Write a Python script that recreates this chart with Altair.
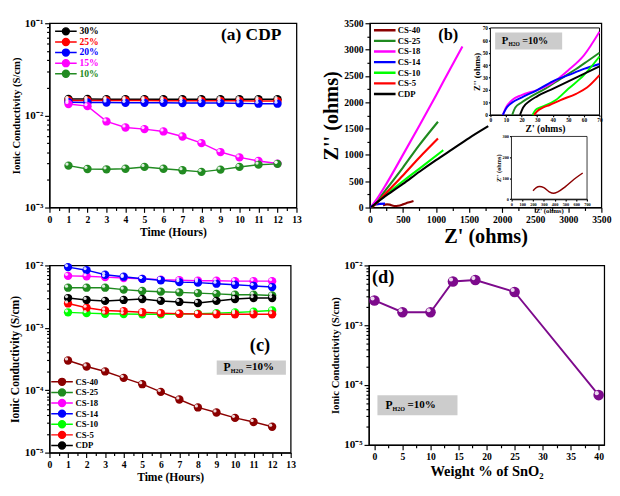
import altair as alt
import pandas as pd

FONT = "Liberation Serif"

# ---------------- data ----------------
hours = [1, 2, 3, 4, 5, 6, 7, 8, 9, 10, 11, 12]

# panel (a): CDP at various humidities
a_series = ["30%", "25%", "20%", "15%", "10%"]
a_colors = ["#000000", "#ff0000", "#0000ff", "#ff00ff", "#228b22"]
a_30 = [0.0151, 0.0151, 0.0150, 0.0150, 0.0150, 0.0150, 0.0150, 0.0150, 0.0150, 0.0150, 0.0150, 0.0150]
a_25 = [0.0145, 0.0145, 0.0145, 0.0145, 0.0145, 0.0144, 0.0144, 0.0144, 0.0144, 0.0144, 0.0143, 0.0143]
a_20 = [0.0139, 0.0138, 0.0138, 0.0137, 0.0137, 0.0137, 0.0136, 0.0136, 0.0136, 0.0135, 0.0134, 0.0134]
a_15 = [0.0133, 0.0126, 0.0086, 0.0074, 0.0071, 0.0067, 0.0059, 0.0050, 0.0040, 0.0035, 0.0032, 0.0030]
a_10 = [0.00285, 0.00262, 0.00260, 0.00264, 0.00276, 0.00264, 0.00254, 0.00244, 0.00258, 0.00276, 0.00292, 0.00298]

# panels (b), (c): composite series
c_series = ["CS-40", "CS-25", "CS-18", "CS-14", "CS-10", "CS-5", "CDP"]
c_colors = ["#8b0000", "#1f8a1f", "#ff00ff", "#0000ff", "#00ff00", "#ff0000", "#000000"]

c_cs40 = [3.0e-4, 2.4e-4, 2.0e-4, 1.58e-4, 1.25e-4, 9.4e-5, 7.1e-5, 5.3e-5, 4.4e-5, 3.6e-5, 3.1e-5, 2.6e-5]
c_cs25 = [0.0044, 0.0044, 0.0044, 0.0041, 0.0039, 0.0038, 0.0037, 0.0036, 0.0035, 0.0034, 0.0034, 0.0033]
c_cs18 = [0.0068, 0.0067, 0.0065, 0.0063, 0.0061, 0.0059, 0.0058, 0.0057, 0.0057, 0.0056, 0.0056, 0.0056]
c_cs14 = [0.0094, 0.0084, 0.0071, 0.0066, 0.0061, 0.0058, 0.0054, 0.0053, 0.0051, 0.0049, 0.0047, 0.0045]
c_cs10 = [0.00177, 0.00172, 0.00168, 0.00166, 0.00165, 0.00165, 0.00167, 0.00168, 0.00172, 0.00176, 0.00182, 0.0019]
c_cs5 = [0.00246, 0.0021, 0.0019, 0.00185, 0.00178, 0.00172, 0.00168, 0.00166, 0.00165, 0.00165, 0.00165, 0.00165]
c_cdp = [0.0030, 0.0028, 0.0027, 0.0028, 0.0029, 0.0027, 0.0026, 0.0025, 0.0027, 0.0029, 0.0030, 0.0030]

# panel (b) main Nyquist curves (Z', Z'')
b_cs40_x = [200, 230, 260, 300, 350, 390, 430, 500, 580, 660]
b_cs40_y = [40, 55, 60, 55, 35, 28, 35, 60, 95, 125]
b_cs25_x = [15, 100, 250, 500, 750, 1030]
b_cs25_y = [0, 110, 350, 760, 1190, 1630]
b_cs18_x = [10, 100, 250, 500, 750, 1000, 1200, 1400]
b_cs18_y = [0, 150, 450, 1000, 1560, 2130, 2600, 3060]
b_cs14_x = [8, 50, 100, 150, 230]
b_cs14_y = [0, 40, 60, 70, 75]
b_cs10_x = [27, 100, 250, 500, 750, 1110]
b_cs10_y = [0, 90, 250, 500, 740, 1090]
b_cs5_x = [28, 100, 250, 500, 750, 1030]
b_cs5_y = [0, 80, 280, 610, 950, 1310]
b_cdp_x = [20, 100, 250, 500, 750, 1000, 1250, 1500, 1790]
b_cdp_y = [0, 90, 230, 450, 680, 900, 1110, 1320, 1545]

# panel (b) high-frequency inset
i_cs18_x = [8, 10, 14, 20, 30, 40, 50, 60, 70]
i_cs18_y = [0, 6, 12, 16, 20, 26, 36, 48, 67]
i_cs14_x = [8, 10, 14, 20, 30, 40, 50, 60, 70]
i_cs14_y = [0, 5, 10, 14, 20, 27, 32, 37, 41]
i_cs25_x = [14, 16, 20, 25, 35, 45, 55, 62, 70]
i_cs25_y = [0, 6, 10, 14, 21, 29, 37, 43, 50]
i_cdp_x = [19, 21, 25, 30, 40, 50, 60, 70]
i_cdp_y = [0, 6, 11, 15, 21, 27, 33, 39]
i_cs10_x = [27, 29, 32, 36, 42, 50, 60, 70]
i_cs10_y = [0, 4, 6, 8, 12, 21, 32, 47]
i_cs5_x = [28, 30, 34, 38, 45, 55, 62, 70]
i_cs5_y = [0, 3, 6, 8, 12, 17, 22, 32]

# panel (d)
d_wt = [0, 5, 10, 14, 18, 25, 40]
d_sigma = [2.6e-3, 1.65e-3, 1.65e-3, 5.4e-3, 5.7e-3, 3.6e-3, 6.8e-5]

# ---------------- layout sizes ----------------
A_W, A_H = 256, 191
B_W, B_H = 240, 191
C_W, C_H = 250, 194
D_W, D_H = 244, 186


def ax(px): return (px - 47) / 256 * A_W
def ay(py): return (py - 5) / 199 * A_H
def bx(px): return (px - 366) / 242 * B_W
def by(py): return (py - 5) / 197 * B_H
def cx(px): return (px - 49) / 251 * C_W
def cy(py): return (py - 263) / 197 * C_H
def dx(px): return (px - 368) / 247 * D_W
def dy(py): return (py - 263) / 188 * D_H


SUP = ("'10' + ['\u2070','\u207b\u00b9','\u207b\u00b2','\u207b\u00b3','\u207b\u2074','\u207b\u2075','\u207b\u2076']"
       "[round(-log(datum.value)/LN10)]")

LEG_PATH = "M-1,0H-0.32M0.32,0H1M-0.32,0A0.32,0.32 0 1,0 0.32,0A0.32,0.32 0 1,0 -0.32,0Z"


def log_minor(lo_exp, hi_exp):
    return [m * 10.0 ** e for e in range(lo_exp, hi_exp) for m in range(2, 10)]


def color_expr(series, colors):
    expr = "'black'"
    for s, c in reversed(list(zip(series, colors))):
        expr = f"datum.value == '{s}' ? '{c}' : ({expr})"
    return expr


def label(text, x, y, size, align="left", baseline="middle"):
    return alt.Chart(pd.DataFrame({"t": [text]})).mark_text(
        font=FONT, fontSize=size, fontWeight="bold", align=align, baseline=baseline, color="black"
    ).encode(text="t:N", x=alt.value(x), y=alt.value(y))


def box(x0, x1, y0, y1):
    return alt.Chart(pd.DataFrame({"t": [0]})).mark_rect(color="#cccccc").encode(
        x=alt.value(x0), x2=alt.value(x1), y=alt.value(y0), y2=alt.value(y1))


def ph2o(x0, x1, y0, y1, big):
    ym = (y0 + y1) / 2
    small = big * 0.52
    xp = x0 + (x1 - x0) * 0.1
    return [
        box(x0, x1, y0, y1),
        label("P", xp, ym, big),
        label("H2O", xp + big * 0.62, ym + big * 0.32, small),
        label("=10%", xp + big * 0.62 + small * 2.15 + 2, ym, big * 0.95),
    ]


def minor_layer(df, xf, yf, xdom, ydom, xminor, yminor, ylog=True):
    return alt.Chart(df).mark_point(opacity=0).encode(
        x=alt.X(xf, scale=alt.Scale(domain=xdom, nice=False),
                axis=alt.Axis(orient="bottom", values=xminor, labels=False, ticks=True, tickSize=3,
                              tickWidth=1.2, tickColor="black", domain=False, title=None)),
        y=alt.Y(yf, scale=alt.Scale(type="log" if ylog else "linear", domain=ydom, nice=False),
                axis=alt.Axis(orient="left", values=yminor, labels=False, ticks=True, tickSize=3,
                              tickWidth=1.2, tickColor="black", domain=False, title=None)),
    )


def long_time(names, arrays):
    rows = []
    for n, arr in zip(names, arrays):
        for h, v in zip(hours, arr):
            rows.append({"series": n, "hour": h, "sigma": v})
    return pd.DataFrame(rows)


def time_main(df, series, colors, ydom, yvals, ytitle, ytsize, xtsize, legend, size):
    x = alt.X("hour:Q", scale=alt.Scale(domain=[0, 13], nice=False),
              axis=alt.Axis(values=list(range(14)), title="Time (Hours)", titleFontSize=xtsize))
    y = alt.Y("sigma:Q", scale=alt.Scale(type="log", domain=ydom, nice=False),
              axis=alt.Axis(values=yvals, labelExpr=SUP, labelFontSize=11.5, title=ytitle,
                            titleFontSize=ytsize))
    col = alt.Color("series:N", scale=alt.Scale(domain=series, range=colors), legend=legend)
    lines = alt.Chart(df).mark_line(strokeWidth=1.5).encode(x=x, y=y, color=col)
    pts = alt.Chart(df).mark_circle(size=size, opacity=1).encode(x=x, y=y, color=alt.Color("series:N", legend=None))
    hl = alt.Chart(df).mark_circle(size=size * 0.15, opacity=0.85, xOffset=-1.6, yOffset=-1.6).encode(
        x=x, y=y, color=alt.value("white"))
    return alt.layer(lines, pts, hl)


half_hours = [h + 0.5 for h in range(13)]

# ---------------- panel (a) ----------------
df_a = long_time(a_series, [a_30, a_25, a_20, a_15, a_10])
leg_a = alt.Legend(orient="none", legendX=ax(52), legendY=ay(8), title=None, labelFont=FONT,
                   labelFontWeight="bold", labelFontSize=10,
                   labelColor={"expr": color_expr(a_series, a_colors)},
                   symbolType=LEG_PATH, symbolSize=500, symbolStrokeWidth=1.5,
                   clipHeight=11, rowPadding=0, labelOffset=2, padding=0)
panel_a = alt.layer(
    time_main(df_a, a_series, a_colors, [1e-3, 1e-1], [1e-3, 1e-2, 1e-1],
              "Ionic Conductivity (S/cm)", 11, 12, leg_a, 75),
    minor_layer(df_a, "hour:Q", "sigma:Q", [0, 13], [1e-3, 1e-1], half_hours, log_minor(-3, -1)),
    label("(a) CDP", ax(256), ay(18), 18, align="center"),
).resolve_scale(x="independent", y="independent").properties(width=A_W, height=A_H)

# ---------------- panel (b) ----------------
rows = []
for n, xs, ys in zip(c_series,
                     [b_cs40_x, b_cs25_x, b_cs18_x, b_cs14_x, b_cs10_x, b_cs5_x, b_cdp_x],
                     [b_cs40_y, b_cs25_y, b_cs18_y, b_cs14_y, b_cs10_y, b_cs5_y, b_cdp_y]):
    for xv, yv in zip(xs, ys):
        rows.append({"series": n, "zr": xv, "zi": yv})
df_b = pd.DataFrame(rows)

rows = []
for n, xs, ys in zip(["CS-25", "CS-18", "CS-14", "CS-10", "CS-5", "CDP"],
                     [i_cs25_x, i_cs18_x, i_cs14_x, i_cs10_x, i_cs5_x, i_cdp_x],
                     [i_cs25_y, i_cs18_y, i_cs14_y, i_cs10_y, i_cs5_y, i_cdp_y]):
    for xv, yv in zip(xs, ys):
        rows.append({"series": n, "zr": xv, "zi": yv})
df_i = pd.DataFrame(rows)
df_i2 = df_b[df_b.series == "CS-40"]

zticks = [0, 500, 1000, 1500, 2000, 2500, 3000, 3500]
leg_b = alt.Legend(orient="none", legendX=bx(369), legendY=by(7), title=None, labelFont=FONT,
                   labelFontWeight="bold", labelFontSize=9, symbolType="stroke", symbolSize=500,
                   symbolStrokeWidth=2.5, clipHeight=10.7, rowPadding=0, labelOffset=1, padding=0)
main_b = alt.Chart(df_b).mark_line(strokeWidth=2.2, interpolate="monotone", clip=True).encode(
    x=alt.X("zr:Q", scale=alt.Scale(domain=[0, 3500], nice=False),
            axis=alt.Axis(orient="bottom", values=zticks, format="d", title="Z' (ohms)",
                          titleFontSize=21, titlePadding=2)),
    y=alt.Y("zi:Q", scale=alt.Scale(domain=[0, 3500], nice=False),
            axis=alt.Axis(orient="left", values=zticks, format="d", title="Z'' (ohms)",
                          titleFontSize=21, titlePadding=2)),
    color=alt.Color("series:N", scale=alt.Scale(domain=c_series, range=c_colors), legend=leg_b),
)

# inset 1
i1x0, i1x1, i1y0, i1y1 = bx(492), bx(606), by(103), by(10)
sx1 = alt.Scale(domain=[0, 70], range=[i1x0, i1x1], nice=False)
sy1 = alt.Scale(domain=[0, 70], range=[i1y0, i1y1], nice=False)
ax1x = alt.Axis(orient="bottom", offset=i1y0 - B_H, values=list(range(0, 71, 10)), labelFontSize=5.5,
                tickSize=2, labelPadding=1, title="Z' (ohms)", titleFontSize=10, titlePadding=1)
ax1y = alt.Axis(orient="left", offset=-i1x0, values=list(range(0, 71, 10)), labelFontSize=5.5,
                tickSize=2, labelPadding=1, title="Z'' (ohms)", titleFontSize=9, titlePadding=1)
frame1 = alt.Chart(pd.DataFrame({"x0": [0], "x1": [70], "y0": [0], "y1": [70]})).mark_rect(
    fill="white", stroke="black", strokeWidth=1).encode(
    x=alt.X("x0:Q", scale=sx1, axis=ax1x), x2="x1:Q",
    y=alt.Y("y0:Q", scale=sy1, axis=ax1y), y2="y1:Q")
lines1 = alt.Chart(df_i).mark_line(strokeWidth=2, interpolate="monotone", clip=True).encode(
    x=alt.X("zr:Q", scale=sx1, axis=ax1x), y=alt.Y("zi:Q", scale=sy1, axis=ax1y),
    color=alt.Color("series:N", legend=None))
inset1 = alt.layer(frame1, lines1)

# inset 2
i2x0, i2x1, i2y0, i2y1 = bx(514), bx(593), by(193), by(126)
sx2 = alt.Scale(domain=[0, 700], range=[i2x0, i2x1], nice=False)
sy2 = alt.Scale(domain=[0, 300], range=[i2y0, i2y1], nice=False)
ax2x = alt.Axis(orient="bottom", offset=i2y0 - B_H, values=list(range(0, 701, 100)), labelFontSize=4.5,
                tickSize=2, labelPadding=1, title="Z' (ohms)", titleFontSize=7, titlePadding=0)
ax2y = alt.Axis(orient="left", offset=-i2x0, values=[0, 100, 200, 300], labelFontSize=4.5,
                tickSize=2, labelPadding=1, title="Z'' (ohms)", titleFontSize=6.5, titlePadding=1)
frame2 = alt.Chart(pd.DataFrame({"x0": [0], "x1": [700], "y0": [0], "y1": [300]})).mark_rect(
    fill="white", stroke="black", strokeWidth=0.8).encode(
    x=alt.X("x0:Q", scale=sx2, axis=ax2x), x2="x1:Q",
    y=alt.Y("y0:Q", scale=sy2, axis=ax2y), y2="y1:Q")
lines2 = alt.Chart(df_i2).mark_line(strokeWidth=1.5, interpolate="monotone").encode(
    x=alt.X("zr:Q", scale=sx2, axis=ax2x), y=alt.Y("zi:Q", scale=sy2, axis=ax2y),
    color=alt.Color("series:N", legend=None))
inset2 = alt.layer(frame2, lines2)

panel_b = alt.layer(
    main_b,
    minor_layer(df_b, "zr:Q", "zi:Q", [0, 3500], [0, 3500], list(range(250, 3500, 500)),
                list(range(250, 3500, 500)), ylog=False),
    inset1, inset2,
    *ph2o(bx(497), bx(567), by(15), by(33), 11),
    label("(b)", bx(448), by(18), 17, align="center"),
).resolve_scale(x="independent", y="independent").properties(width=B_W, height=B_H)

# ---------------- panel (c) ----------------
df_c = long_time(c_series, [c_cs40, c_cs25, c_cs18, c_cs14, c_cs10, c_cs5, c_cdp])
leg_c = alt.Legend(orient="none", legendX=cx(50), legendY=cy(380), title=None, labelFont=FONT,
                   labelFontWeight="bold", labelFontSize=9, labelColor="black",
                   symbolType=LEG_PATH, symbolSize=500, symbolStrokeWidth=1.5,
                   clipHeight=10.8, rowPadding=0, labelOffset=2, padding=0)
panel_c = alt.layer(
    time_main(df_c, c_series, c_colors, [1e-5, 1e-2], [1e-5, 1e-4, 1e-3, 1e-2],
              "Ionic Conductivity (S/cm)", 12, 12, leg_c, 75),
    minor_layer(df_c, "hour:Q", "sigma:Q", [0, 13], [1e-5, 1e-2], half_hours, log_minor(-5, -2)),
    label("(c)", cx(268), cy(347), 19, align="center"),
    *ph2o(cx(223), cx(295), cy(363), cy(378), 12),
).resolve_scale(x="independent", y="independent").properties(width=C_W, height=C_H)

# ---------------- panel (d) ----------------
df_d = pd.DataFrame({"wt": d_wt, "sigma": d_sigma})
xd = alt.X("wt:Q", scale=alt.Scale(domain=[-1, 41], nice=False),
           axis=alt.Axis(values=list(range(0, 41, 5)), title="Weight % of SnO\u2082", titleFontSize=15))
yd = alt.Y("sigma:Q", scale=alt.Scale(type="log", domain=[1e-5, 1e-2], nice=False),
           axis=alt.Axis(values=[1e-5, 1e-4, 1e-3, 1e-2], labelExpr=SUP, labelFontSize=11.5,
                         title="Ionic Conductivity (S/cm)", titleFontSize=11))
main_d = alt.layer(
    alt.Chart(df_d).mark_line(strokeWidth=2, color="#7d0a8c").encode(x=xd, y=yd),
    alt.Chart(df_d).mark_circle(size=120, opacity=1, color="#7d0a8c").encode(x=xd, y=yd),
    alt.Chart(df_d).mark_circle(size=18, opacity=0.85, color="white", xOffset=-2, yOffset=-2).encode(x=xd, y=yd),
)
panel_d = alt.layer(
    main_d,
    minor_layer(df_d, "wt:Q", "sigma:Q", [-1, 41], [1e-5, 1e-2], [2.5 + 5 * k for k in range(8)],
                log_minor(-5, -2)),
    label("(d)", dx(383), dy(275), 19, align="center"),
    *ph2o(dx(377), dx(461), dy(399), dy(420), 12),
).resolve_scale(x="independent", y="independent").properties(width=D_W, height=D_H)

row1 = alt.hconcat(panel_a, panel_b, spacing=19).resolve_scale(color="independent")
row2 = alt.hconcat(panel_c, panel_d, spacing=34).resolve_scale(color="independent")

chart = alt.vconcat(row1, row2, spacing=12).resolve_scale(color="independent").properties(
    padding={"left": 0, "top": 0, "right": 0, "bottom": 0}
).configure_view(stroke="black", strokeWidth=1.3).configure_axis(
    labelFont=FONT, labelFontWeight="bold", labelFontSize=10, labelColor="black",
    titleFont=FONT, titleFontWeight="bold", titleColor="black",
    domainColor="black", tickColor="black", domainWidth=1.2, tickWidth=1.2, tickSize=5,
    labelPadding=2, titlePadding=3, grid=False, labelFlush=False,
).configure_legend(labelColor="black")

chart.save("out.html", embed_options={"renderer": "svg", "actions": False})
